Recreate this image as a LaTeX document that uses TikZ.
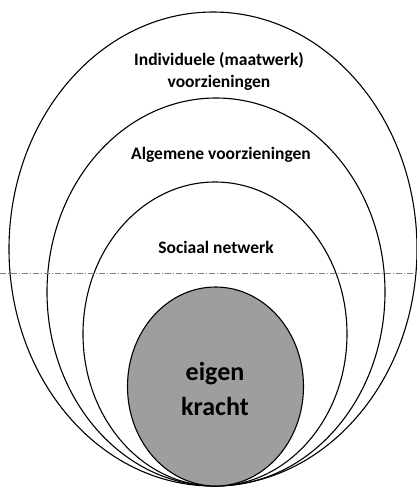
\documentclass[tikz,border=0pt]{standalone}
\usepackage{fontspec}
\setmainfont{Carlito}
\begin{document}
\begin{tikzpicture}[x=1pt,y=-1pt,
  ring/.style={draw=black,line width=1.1pt},
  lbl/.style={font=\bfseries\fontsize{17.5}{22}\selectfont,align=center,inner sep=0pt},
  core/.style={font=\bfseries\fontsize{26}{35}\selectfont,align=center,inner sep=0pt}]
\useasboundingbox (0,0) rectangle (417,488);
\begin{scope}
\clip (0,0) rectangle (417,488);
\draw[ring] (213,249) ellipse [x radius=204, y radius=237];
\draw[ring] (216,292) ellipse [x radius=169, y radius=194];
\draw[ring] (215,334) ellipse [x radius=132, y radius=152];
\draw[ring,fill=black!38] (215.5,386.5) ellipse [x radius=88, y radius=99.5];
\draw[gray,line width=0.5pt,dash pattern=on 6pt off 2pt on 1pt off 2pt] (0,273) -- (417,273);
\end{scope}
\node[lbl] (ind) at (219,71) {Individuele (maatwerk)\\voorzieningen};
\node[lbl] (alg) at (221,155) {Algemene voorzieningen};
\node[lbl] (soc) at (216,247) {Sociaal netwerk};
\node[core] (eig) at (215,389) {eigen\\kracht};
\end{tikzpicture}
\end{document}
